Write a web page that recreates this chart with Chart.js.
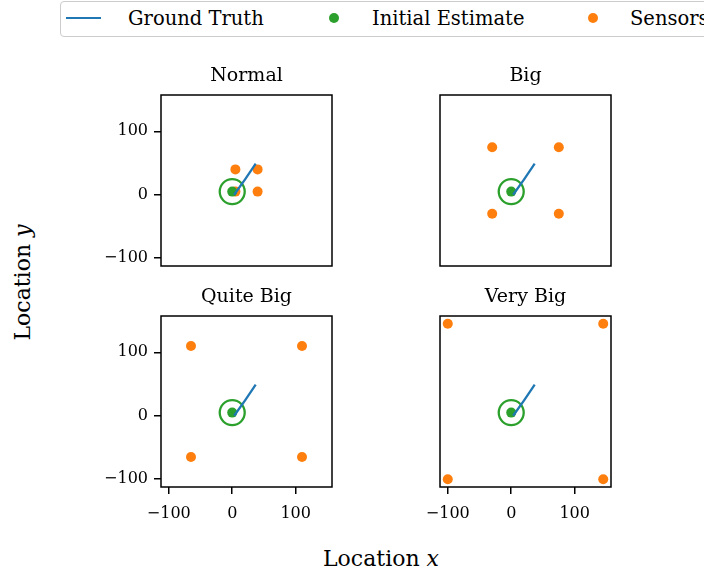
<!DOCTYPE html>
<html>
<head>
<meta charset="utf-8">
<script src="https://cdn.jsdelivr.net/npm/chart.js@4/dist/chart.umd.min.js"></script>
<style>
  body { margin: 0; background: #fff; width: 704px; height: 574px; overflow: hidden; position: relative; font-family: "DejaVu Serif", serif; }
  canvas { position: absolute; }
  .legend { position: absolute; left: 60px; top: 1px; width: 680px; height: 34px; border: 1.5px solid #ccc; border-radius: 4px; }
  .legend span { position: absolute; top: 5px; font-size: 19.5px; color: #000; white-space: nowrap; }
  .legend .line { position: absolute; left: 5px; top: 15px; width: 35px; height: 2px; background: #1f77b4; }
  .legend .dot { position: absolute; top: 11px; width: 10px; height: 10px; border-radius: 50%; }
  .label { position: absolute; font-size: 22px; color: #000; white-space: nowrap; }
</style>
</head>
<body>
<div class="legend">
  <div class="line"></div><span style="left:67px">Ground Truth</span>
  <div class="dot" style="left:268px;background:#2ca02c"></div><span style="left:311px">Initial Estimate</span>
  <div class="dot" style="left:527px;background:#ff7f0e"></div><span style="left:569px">Sensors</span>
</div>
<div class="label" id="xlabel" style="left:323px;top:546px">Location <i>x</i></div>
<div class="label" id="ylabel" style="left:-41px;top:270px;transform:rotate(-90deg);transform-origin:center;width:126px;text-align:center">Location <i>y</i></div>
<script>
// data
const titles = ["Normal", "Big", "Quite Big", "Very Big"];
const sensorX = [
  [5, 40, 5, 40],
  [-30, 75, -30, 75],
  [-65, 110, -65, 110],
  [-100, 145, -100, 145]
];
const sensorY = [
  [5, 5, 40, 40],
  [-30, -30, 75, 75],
  [-65, -65, 110, 110],
  [-100, -100, 145, 145]
];
const truthX = [3, 20, 37];
const truthY = [0, 24, 49];
const estimateX = [0];
const estimateY = [5];
const tickValues = [-100, 0, 100];
const axisMin = -112.25;
const axisMax = 157.25;

// panel placement (plot area top-left corners)
const panelPos = [
  { left: 161, top: 95, showX: false, showY: true },
  { left: 440, top: 95, showX: false, showY: false },
  { left: 161, top: 316, showX: true, showY: true },
  { left: 440, top: 316, showX: true, showY: false }
];
const SIZE = 171, PADL = 70, PADT = 40, PADR = 20, PADB = 50;
const FONT = "'DejaVu Serif', serif";

const toPts = (xs, ys) => xs.map((x, i) => ({ x: x, y: ys[i] }));
const fmt = v => v < 0 ? "\u2212" + Math.abs(v) : String(v);

const framePlugin = {
  id: "frame",
  afterDraw(chart, args, opts) {
    const a = chart.chartArea;
    const ctx = chart.ctx;
    ctx.save();
    ctx.strokeStyle = "#000";
    ctx.lineWidth = 1.5;
    ctx.strokeRect(a.left, a.top, a.right - a.left, a.bottom - a.top);
    ctx.fillStyle = "#000";
    ctx.font = "19px " + FONT;
    ctx.textAlign = "center";
    ctx.textBaseline = "alphabetic";
    ctx.fillText(opts.title, (a.left + a.right) / 2, a.top - 14);
    ctx.restore();
  }
};

function axis(show, pad) {
  return {
    type: "linear",
    min: axisMin,
    max: axisMax,
    afterBuildTicks: s => { s.ticks = tickValues.map(v => ({ value: v })); },
    ticks: { display: show, color: "#000", padding: pad, font: { family: FONT, size: 16 }, callback: fmt },
    grid: { display: show, drawOnChartArea: false, drawTicks: true, tickLength: 7, color: "#000", lineWidth: 1.5 },
    border: { display: false }
  };
}

panelPos.forEach((p, i) => {
  const canvas = document.createElement("canvas");
  canvas.width = PADL + SIZE + PADR;
  canvas.height = PADT + SIZE + PADB;
  canvas.style.left = (p.left - PADL) + "px";
  canvas.style.top = (p.top - PADT) + "px";
  document.body.appendChild(canvas);

  const xs = axis(p.showX, 10);
  xs.afterFit = s => { s.height = PADB; };
  const ys = axis(p.showY, 6);
  ys.afterFit = s => { s.width = PADL; };

  new Chart(canvas, {
    type: "scatter",
    data: {
      datasets: [
        { label: "Ground Truth", data: toPts(truthX, truthY), showLine: true, borderColor: "#1f77b4", borderWidth: 2.3, pointRadius: 0, fill: false },
        { label: "Initial Estimate", data: toPts(estimateX, estimateY), backgroundColor: "#2ca02c", borderWidth: 0, pointRadius: 5 },
        { label: "Uncertainty", data: toPts(estimateX, estimateY), backgroundColor: "rgba(0,0,0,0)", borderColor: "#2ca02c", borderWidth: 2.3, pointRadius: 12.5 },
        { label: "Sensors", data: toPts(sensorX[i], sensorY[i]), backgroundColor: "#ff7f0e", borderWidth: 0, pointRadius: 5 }
      ]
    },
    options: {
      responsive: false,
      animation: false,
      events: [],
      layout: { padding: { top: PADT, right: PADR, left: 0, bottom: 0 } },
      plugins: {
        legend: { display: false },
        tooltip: { enabled: false },
        frame: { title: titles[i] }
      },
      scales: { x: xs, y: ys }
    },
    plugins: [framePlugin]
  });
});
</script>
</body>
</html>
